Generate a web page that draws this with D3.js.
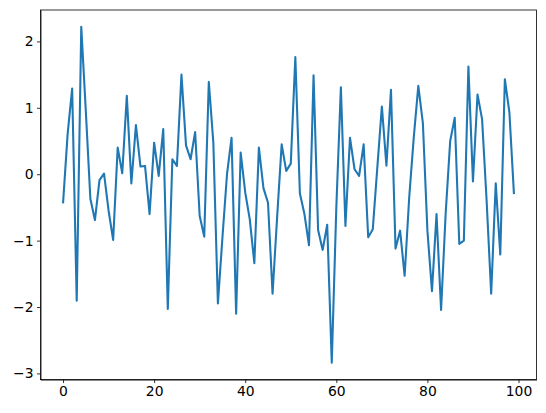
<!DOCTYPE html>
<html>
<head>
<meta charset="utf-8">
<script src="https://cdn.jsdelivr.net/npm/d3@7"></script>
<style>
  body { margin: 0; background: #fff; }
  .axis text { font-family: "DejaVu Sans", sans-serif; font-size: 13.9px; fill: #000; }
  .axis path, .axis line { stroke: #000; stroke-width: 0.8px; }
</style>
</head>
<body>
<script>
// values, index 0..99
var values = [
  -0.44, 0.6, 1.29, -1.905, 2.22, 0.95, -0.37, -0.69, -0.09, 0.01,
  -0.55, -0.99, 0.40, 0.015, 1.18, -0.14, 0.74, 0.115, 0.125, -0.60,
  0.475, -0.025, 0.68, -2.03, 0.225, 0.125, 1.50, 0.435, 0.225, 0.635,
  -0.63, -0.94, 1.39, 0.475, -1.945, -0.95, 0.0, 0.55, -2.10, 0.325,
  -0.275, -0.68, -1.34, 0.40, -0.21, -0.43, -1.80, -0.65, 0.45, 0.05,
  0.16, 1.765, -0.29, -0.60, -1.07, 1.49, -0.84, -1.14, -0.76, -2.84,
  -0.5, 1.31, -0.78, 0.55, 0.075, -0.025, 0.45, -0.95, -0.83, 0.10,
  1.02, 0.13, 1.27, -1.12, -0.85, -1.53, -0.35, 0.55, 1.33, 0.775,
  -0.85, -1.76, -0.60, -2.045, -0.6, 0.50, 0.85, -1.05, -1.0, 1.62,
  -0.11, 1.20, 0.83, -0.40, -1.80, -0.135, -1.21, 1.43, 0.93, -0.30
];
var xTicks = [0, 20, 40, 60, 80, 100];
var yTicks = [-3, -2, -1, 0, 1, 2];

var w = 546;
var h = 413;
var margin = { top: 10, bottom: 33.4, left: 40.5, right: 9.5 };
var width = w - margin.left - margin.right;
var height = h - margin.top - margin.bottom;

// matplotlib-style 5% padding around the data
function padded(ext) {
  var d = (ext[1] - ext[0]) * 0.05;
  return [ext[0] - d, ext[1] + d];
}

var svg = d3.select('body').append('svg')
            .attr('width', w)
            .attr('height', h);
var chart = svg.append('g')
              .attr('transform', 'translate(' + margin.left + ',' + margin.top + ')');

var x = d3.scaleLinear()
          .domain(padded([0, values.length - 1]))
          .range([0, width]);
var y = d3.scaleLinear()
          .domain(padded(d3.extent(values)))
          .range([height, 0]);

var xAxis = d3.axisBottom(x)
              .tickValues(xTicks)
              .tickFormat(d3.format('d'))
              .tickSizeInner(3.5)
              .tickSizeOuter(0)
              .tickPadding(3.5);
var yAxis = d3.axisLeft(y)
              .tickValues(yTicks)
              .tickFormat(d3.format('d'))
              .tickSizeInner(3.5)
              .tickSizeOuter(0)
              .tickPadding(3.5);

var line = d3.line()
             .x(function(d, i){ return x(i); })
             .y(function(d){ return y(d); });

chart.append('path')
     .datum(values)
     .attr('d', line)
     .attr('fill', 'none')
     .attr('stroke', '#1f77b4')
     .attr('stroke-width', 2.08)
     .attr('stroke-linejoin', 'round')
     .attr('stroke-linecap', 'butt');

chart.append('g')
     .classed('x axis', true)
     .attr('transform', 'translate(0,' + height + ')')
     .call(xAxis);
chart.append('g')
     .classed('y axis', true)
     .call(yAxis);

// frame
chart.append('rect')
     .attr('width', width)
     .attr('height', height)
     .attr('fill', 'none')
     .attr('stroke', '#000')
     .attr('stroke-width', 0.8);
</script>
</body>
</html>
